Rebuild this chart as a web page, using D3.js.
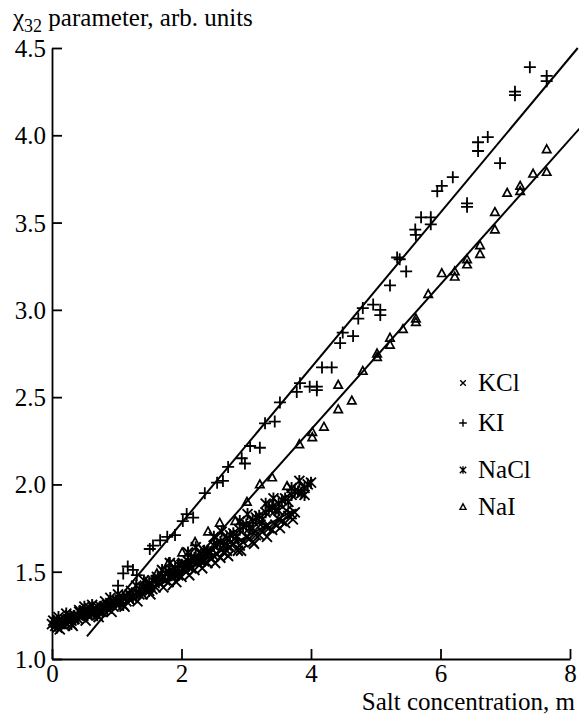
<!DOCTYPE html>
<html lang="en">
<head>
<meta charset="utf-8">
<title>chi32 vs salt concentration</title>
<script src="https://cdn.jsdelivr.net/npm/d3@7"></script>
<style>
  body { margin: 0; background: #fff; }
  svg { display: block; }
  text { font-family: "Liberation Serif", Tinos, "Times New Roman", Times, "DejaVu Serif", serif; fill: #000; }
</style>
</head>
<body>
<div id="chart"></div>
<script>
// values
var xTicks = [0, 2, 4, 6, 8];
var yTicks = [1.0, 1.5, 2.0, 2.5, 3.0, 3.5, 4.0, 4.5];
var seriesNames = ["KCl", "KI", "NaCl", "NaI"];
var serif = "'Liberation Serif', Tinos, 'Times New Roman', Times, 'DejaVu Serif', serif";

var kclPoints = [[0.05,1.21],[0.15,1.20],[0.25,1.23],[0.4,1.25],[0.55,1.26],[0.65,1.29],[0.75,1.27],
  [0.85,1.31],[0.95,1.30],[1.05,1.34],[1.15,1.33],[1.25,1.36],[1.35,1.37],[1.45,1.40],[1.55,1.40],
  [1.65,1.44],[1.75,1.45],[1.85,1.47],[1.95,1.48],[2.05,1.51],[2.15,1.52],[2.25,1.55],[2.35,1.56],
  [2.45,1.58],[2.55,1.60],[2.65,1.61],[2.75,1.64],[2.87,1.62],[2.95,1.67],[3.05,1.69],[3.10,1.67],
  [3.15,1.71],[3.25,1.73],[3.35,1.75],[3.45,1.77],[3.55,1.79],[3.65,1.82],[3.75,1.84],
  [0.1,1.22],[0.2,1.19],[0.3,1.22],[0.35,1.25],[0.45,1.24],[0.5,1.28],[0.6,1.26],[0.7,1.30],
  [0.8,1.28],[0.9,1.32],[1.0,1.31],[1.1,1.35],[1.2,1.34],[1.3,1.38],[1.4,1.37],[1.5,1.42],
  [1.6,1.41],[1.7,1.46],[1.8,1.44],[1.9,1.49],[2.0,1.47],[2.1,1.53],[2.2,1.51],[2.3,1.57],
  [2.4,1.55],[2.5,1.59],[2.6,1.58],[2.7,1.62],[2.8,1.66],[2.9,1.65],[3.0,1.70],[3.2,1.71],
  [3.3,1.76],[3.4,1.74],[3.5,1.80],[3.6,1.78],[3.7,1.83],
  [0.12,1.17],[0.32,1.19],[0.52,1.22],[0.72,1.24],[0.92,1.27],[1.12,1.30],[1.32,1.33],[1.52,1.37],
  [1.72,1.41],[1.92,1.44],[2.12,1.48],[2.32,1.52],[2.52,1.55],[2.72,1.59],[2.92,1.62],[3.12,1.66],
  [3.32,1.70],[3.52,1.75],[3.72,1.80],[0.42,1.28],[0.82,1.33],[1.22,1.39],[1.62,1.47],[2.02,1.55],
  [2.42,1.61],[2.82,1.69],[3.22,1.77],[3.62,1.85]];

var kiPoints = [[1.02,1.42],[1.10,1.49],[1.17,1.53],[1.25,1.51],[1.31,1.48],[1.51,1.63],[1.56,1.65],
  [1.67,1.68],[1.78,1.70],[1.90,1.71],[2.02,1.79],[2.08,1.83],[2.18,1.81],[2.36,1.95],[2.55,2.01],
  [2.64,2.02],[2.72,2.10],[2.93,2.15],[2.98,2.12],[3.06,2.22],[3.21,2.21],[3.29,2.35],[3.44,2.36],
  [3.52,2.47],[3.78,2.53],[3.83,2.58],[3.98,2.56],[4.09,2.56],[4.09,2.54],[4.17,2.67],[4.32,2.67],
  [4.45,2.81],[4.49,2.87],[4.65,2.85],[4.73,2.95],[4.80,3.01],[4.96,3.03],[5.07,3.00],[5.07,2.97],
  [5.22,3.14],[5.33,3.30],[5.37,3.29],[5.47,3.22],[5.61,3.46],[5.62,3.43],[5.70,3.53],[5.85,3.53],
  [5.85,3.49],[5.95,3.68],[6.02,3.71],[6.19,3.76],[6.41,3.61],[6.41,3.59],[6.58,3.96],[6.58,3.91],
  [6.73,3.99],[6.92,3.84],[7.15,4.25],[7.15,4.23],[7.38,4.39],[7.64,4.34],[7.64,4.31]];

var naclPoints = [[0,1.20],[0.05,1.19],[0.1,1.21],[0.15,1.22],[0.2,1.21],[0.3,1.24],[0.35,1.23],
  [0.45,1.26],[0.5,1.27],[0.6,1.27],[0.7,1.28],[0.8,1.30],[0.9,1.31],[1.0,1.33],[1.1,1.35],
  [1.2,1.37],[1.3,1.38],[1.4,1.41],[1.5,1.43],[1.6,1.45],[1.7,1.47],[1.8,1.50],[1.9,1.52],
  [2.0,1.54],[2.1,1.56],[2.2,1.58],[2.3,1.60],[2.4,1.62],[2.5,1.65],[2.6,1.67],[2.7,1.69],
  [2.8,1.72],[2.9,1.74],[3.0,1.77],[3.1,1.79],[3.2,1.82],[3.3,1.84],[3.4,1.87],[3.5,1.89],
  [3.6,1.92],[3.7,1.94],[3.8,1.96],[3.9,1.98],[4.0,2.01],
  [0.02,1.22],[0.08,1.18],[0.12,1.20],[0.25,1.22],[0.28,1.25],[0.4,1.23],[0.42,1.27],[0.55,1.25],
  [0.58,1.29],[0.65,1.26],[0.75,1.30],[0.78,1.27],[0.85,1.29],[0.95,1.33],[1.05,1.32],[1.15,1.36],
  [1.25,1.35],[1.35,1.40],[1.45,1.40],[1.55,1.45],[1.65,1.44],[1.75,1.49],[1.85,1.48],[1.95,1.54],
  [2.05,1.53],[2.15,1.58],[2.25,1.57],[2.35,1.62],[2.45,1.61],[2.55,1.66],[2.65,1.65],[2.75,1.71],
  [2.85,1.70],[2.95,1.76],[3.05,1.75],[3.15,1.81],[3.25,1.80],[3.35,1.86],[3.45,1.85],[3.55,1.91],
  [3.65,1.90],[3.75,1.96],[3.85,1.95],[3.95,2.00],
  [0.1,1.24],[0.3,1.20],[0.5,1.30],[0.7,1.25],[0.9,1.35],[1.1,1.31],[1.3,1.42],[1.5,1.39],
  [1.7,1.51],[1.9,1.48],[2.1,1.61],[2.3,1.56],[2.5,1.70],[2.7,1.65],[2.9,1.79],[3.1,1.75],
  [3.3,1.89],[3.5,1.85],[3.7,1.98],[3.9,1.94],[0.22,1.26],[0.62,1.31],[1.02,1.37],[1.42,1.45],
  [1.82,1.55],[2.22,1.64],[2.62,1.73],[3.02,1.83],[3.42,1.92],[3.82,2.02]];

var naiPoints = [[1.45,1.44],[1.62,1.49],[1.80,1.55],[2.01,1.61],[2.21,1.67],[2.41,1.73],[2.59,1.78],
  [2.83,1.79],[3.01,1.90],[3.21,2.00],[3.40,2.04],[3.63,1.99],[3.82,2.23],[4.02,2.30],[4.02,2.27],
  [4.20,2.33],[4.42,2.43],[4.42,2.57],[4.63,2.48],[4.80,2.65],[5.02,2.75],[5.02,2.73],[5.22,2.84],
  [5.22,2.80],[5.42,2.89],[5.62,2.95],[5.62,2.93],[5.81,3.09],[6.02,3.21],[6.22,3.22],[6.22,3.19],
  [6.41,3.29],[6.41,3.26],[6.61,3.37],[6.61,3.32],[6.84,3.56],[6.84,3.46],[7.03,3.67],[7.23,3.71],
  [7.23,3.68],[7.43,3.78],[7.64,3.79],[7.64,3.92]];

// straight fit lines, end points
var kiFit = [[0.54,1.13],[8.12,4.50]];
var naiFit = [[1.79,1.395],[8.15,4.04]];
var kclFit = [[1.3,1.35],[3.75,1.855]];

var width = 579, height = 716;
var x = d3.scaleLinear().domain([0, 8]).range([52, 570]);
var y = d3.scaleLinear().domain([1, 4.5]).range([659, 48]);

var svg = d3.select("#chart").append("svg")
    .attr("width", width)
    .attr("height", height);

// marker shapes
var shapes = {
    KCl: function(s) { return "M" + (-s) + "," + (-s) + "L" + s + "," + s + "M" + (-s) + "," + s + "L" + s + "," + (-s); },
    KI: function(s) { return "M" + (-s) + ",0H" + s + "M0," + (-s) + "V" + s; },
    NaCl: function(s) { return "M" + (-s) + "," + (-s) + "L" + s + "," + s + "M" + (-s) + "," + s + "L" + s + "," + (-s) + "M0," + (-s * 1.2) + "V" + (s * 1.2); },
    NaI: function(s) { return "M0," + (-s) + "L" + (s * 0.95) + "," + (s * 0.75) + "H" + (-s * 0.95) + "Z"; }
};

function drawPoints(data, name, size, sw) {
    svg.append("g")
        .selectAll("path")
        .data(data)
        .enter()
        .append("path")
        .attr("transform", d => `translate(${x(d[0])},${y(d[1])})`)
        .attr("d", shapes[name](size))
        .style("fill", "none")
        .style("stroke", "#000")
        .style("stroke-width", sw);
}

drawPoints(naclPoints, "NaCl", 5, 1.9);
drawPoints(kclPoints, "KCl", 5, 1.9);
drawPoints(naiPoints, "NaI", 4.4, 1.7);
drawPoints(kiPoints, "KI", 6, 1.8);

var line = d3.line().x(d => x(d[0])).y(d => y(d[1]));
[kiFit, naiFit, kclFit].forEach(function(f) {
    svg.append("path")
        .attr("d", line(f))
        .style("fill", "none")
        .style("stroke", "#000")
        .style("stroke-width", 2);
});

// axes
var xAxis = d3.axisBottom(x)
    .tickValues(xTicks)
    .tickSizeInner(-10)
    .tickSizeOuter(0)
    .tickPadding(5)
    .tickFormat(d3.format("d"));

var yAxis = d3.axisLeft(y)
    .tickValues(yTicks)
    .tickSizeInner(-10)
    .tickSizeOuter(0)
    .tickPadding(6)
    .tickFormat(d3.format(".1f"));

var gx = svg.append("g").attr("transform", "translate(0,659)").call(xAxis);
var gy = svg.append("g").attr("transform", "translate(52,0)").call(yAxis);

[gx, gy].forEach(function(g) {
    g.attr("font-family", null);
    g.selectAll("path, line").style("stroke", "#000").style("stroke-width", 1.8);
    g.selectAll("text")
        .style("font-family", serif)
        .style("font-size", "25px")
        .style("fill", "#000");
});
gy.selectAll("text").attr("dy", "0.34em");

// titles
var title = svg.append("text")
    .attr("x", 13)
    .attr("y", 26)
    .style("font-family", serif)
    .style("font-size", "25px");
title.append("tspan").text("\u03c7");
title.append("tspan").attr("dy", 6).style("font-size", "18px").text("32");
title.append("tspan").attr("dy", -6).text(" parameter, arb. units");

svg.append("text")
    .attr("x", 575)
    .attr("y", 710)
    .attr("text-anchor", "end")
    .style("font-family", serif)
    .style("font-size", "25px")
    .text("Salt concentration, m");

// legend
var legendY = [383, 423, 470, 507];
var legendSize = { KCl: 2.8, KI: 3.8, NaCl: 3.2, NaI: 3.2 };
var legend = svg.append("g")
    .selectAll("g")
    .data(seriesNames)
    .enter()
    .append("g")
    .attr("transform", (d, i) => `translate(463,${legendY[i]})`);

legend.append("path")
    .attr("d", d => shapes[d](legendSize[d]))
    .style("fill", "none")
    .style("stroke", "#000")
    .style("stroke-width", 1.4);

legend.append("text")
    .attr("x", 15)
    .attr("dy", "0.33em")
    .style("font-family", serif)
    .style("font-size", "25px")
    .text(d => d);
</script>
</body>
</html>
